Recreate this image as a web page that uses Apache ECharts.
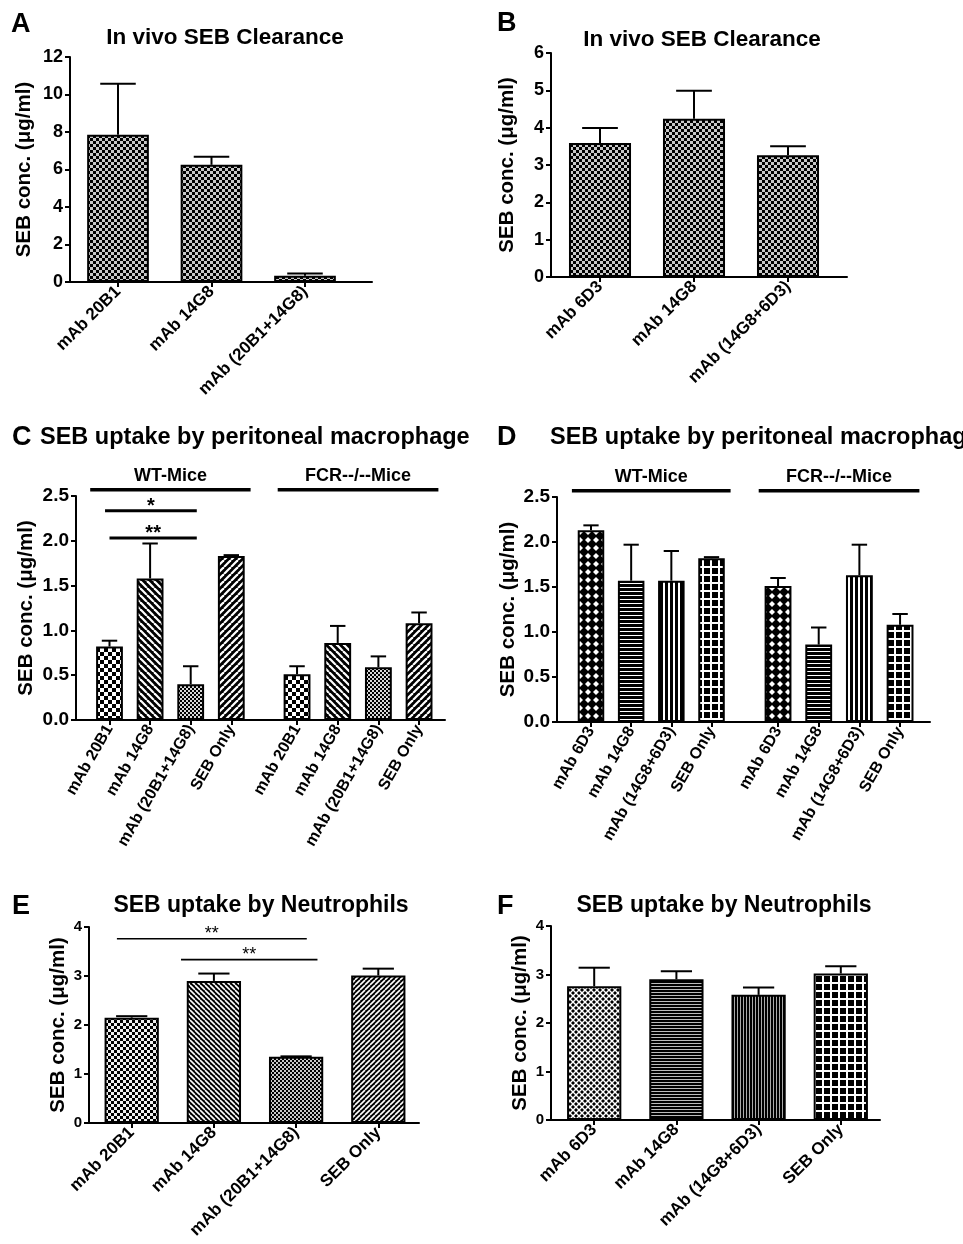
<!DOCTYPE html>
<html><head><meta charset="utf-8">
<script src="https://cdn.jsdelivr.net/npm/echarts@6/dist/echarts.min.js"></script>
<style>html,body{margin:0;padding:0;background:#fff}#c{width:963px;height:1244px}</style>
</head><body><div id="c"></div>
<script>
// ---------------- DATA ----------------
const catA = ['mAb 20B1', 'mAb 14G8', 'mAb (20B1+14G8)'];
const valA = [7.85, 6.25, 0.33];
const errA = [2.72, 0.43, 0.12];

const catB = ['mAb 6D3', 'mAb 14G8', 'mAb (14G8+6D3)'];
const valB = [3.59, 4.24, 3.26];
const errB = [0.40, 0.75, 0.24];

const catC = ['mAb 20B1', 'mAb 14G8', 'mAb (20B1+14G8)', 'SEB Only'];
const valC_WT = [0.82, 1.58, 0.40, 1.83];
const errC_WT = [0.065, 0.39, 0.20, 0.01];
const valC_FCR = [0.51, 0.86, 0.59, 1.08];
const errC_FCR = [0.09, 0.19, 0.12, 0.12];

const catD = ['mAb 6D3', 'mAb 14G8', 'mAb (14G8+6D3)', 'SEB Only'];
const valD_WT = [2.13, 1.57, 1.57, 1.82];
const errD_WT = [0.055, 0.40, 0.33, 0.012];
const valD_FCR = [1.51, 0.86, 1.63, 1.08];
const errD_FCR = [0.09, 0.19, 0.34, 0.12];

const catE = ['mAb 20B1', 'mAb 14G8', 'mAb (20B1+14G8)', 'SEB Only'];
const valE = [2.15, 2.90, 1.35, 3.01];
const errE = [0.03, 0.15, 0.01, 0.14];

const catF = ['mAb 6D3', 'mAb 14G8', 'mAb (14G8+6D3)', 'SEB Only'];
const valF = [2.76, 2.90, 2.58, 3.02];
const errF = [0.38, 0.165, 0.15, 0.15];

const groupNames = ['WT-Mice', 'FCR--/--Mice'];
const groupLevel = 2.57;
// significance brackets: [from category, to category, level, label]
const sigC = [[-0.11, 2.15, 2.335, '*'], [0.0, 2.15, 2.03, '**']];
const sigE = [[-0.18, 2.13, 3.76, '**'], [0.6, 2.26, 3.335, '**']];

const yTitle = 'SEB conc. (\u03bcg/ml)';
const titleAB = 'In vivo SEB Clearance';
const titleCD = 'SEB uptake by peritoneal macrophage';
const titleEF = 'SEB uptake by Neutrophils';

// ---------------- PATTERNS ----------------
function mk(w, h, draw) {
  const c = document.createElement('canvas'); c.width = w; c.height = h;
  const g = c.getContext('2d'); draw(g, w, h);
  return { image: c, repeat: 'repeat' };
}
const checker = (s, a, b) => mk(2 * s, 2 * s, g => {
  g.fillStyle = b; g.fillRect(0, 0, 2 * s, 2 * s);
  g.fillStyle = a; g.fillRect(0, 0, s, s); g.fillRect(s, s, s, s);
});
const diag = (p, lw, dir) => mk(p, p, g => {
  g.fillStyle = '#000'; g.fillRect(0, 0, p, p);
  g.strokeStyle = '#fff'; g.lineWidth = lw;
  for (const o of [-p, 0, p]) {
    g.beginPath();
    if (dir > 0) { g.moveTo(o, 0); g.lineTo(o + p, p); } else { g.moveTo(o, p); g.lineTo(o + p, 0); }
    g.stroke();
  }
});
const diamonds = (p, r, bg, fg) => mk(p, p, g => {
  g.fillStyle = bg; g.fillRect(0, 0, p, p); g.fillStyle = fg;
  const pts = [[p / 2, p / 2], [0, 0], [p, 0], [0, p], [p, p]];
  const d = (cx, cy, rr) => { g.beginPath(); g.moveTo(cx, cy - rr); g.lineTo(cx + rr, cy); g.lineTo(cx, cy + rr); g.lineTo(cx - rr, cy); g.closePath(); g.fill(); };
  if (bg === '#000') d(p / 2, p / 2, r); else pts.forEach(q => d(q[0], q[1], r));
});
const hstripe = (p, w, col) => mk(1, p, g => { g.fillStyle = '#000'; g.fillRect(0, 0, 1, p); g.fillStyle = col; g.fillRect(0, p - w, 1, w); });
const vstripe = (p, w, col) => mk(p, 1, g => { g.fillStyle = '#000'; g.fillRect(0, 0, p, 1); g.fillStyle = col; g.fillRect(p - w, 0, w, 1); });
const gridPat = (p, w) => mk(p, p, g => { g.fillStyle = '#000'; g.fillRect(0, 0, p, p); g.fillStyle = '#fff'; g.fillRect(p - w, 0, w, p); g.fillRect(0, p - w, p, w); });

const patAB = [checker(3, '#000', '#c8c8c8'), checker(3, '#000', '#c8c8c8'), checker(3, '#000', '#c8c8c8')];
const patC = [checker(4, '#000', '#fff'), diag(7, 2.2, 1), checker(2, '#000', '#d8d8d8'), diag(7, 2.2, -1)];
const patD = [diamonds(8, 3, '#000', '#fff'), hstripe(4, 1, '#fff'), vstripe(5, 2, '#fff'), gridPat(8, 2)];
const patE = [checker(3, '#000', '#f0f0f0'), diag(5, 1.6, 1), checker(2, '#000', '#c8c8c8'), diag(5, 1.6, -1)];
const patF = [diamonds(6, 2, '#fff', '#000'), hstripe(3, 1, '#bbb'), vstripe(3, 1, '#aaa'), gridPat(8, 2)];

// ---------------- BUILD ----------------
const FONT = '"Liberation Sans", Arial, Helvetica, sans-serif';
const grid = [], xAxis = [], yAxis = [], series = [], graphic = [];

function frame(box, yMin, yMax, yInt, yFmt, tickFont, nameGap) {
  grid.push({ left: box[0], top: box[1], width: box[2], height: box[3] });
  const gi = grid.length - 1;
  xAxis.push({ gridIndex: gi, type: 'value', min: 0, max: 1,
    axisLine: { show: true, onZero: false, lineStyle: { color: '#000', width: 2 } },
    axisTick: { show: false }, axisLabel: { show: false }, splitLine: { show: false } });
  yAxis.push({ gridIndex: gi, type: 'value', min: yMin, max: yMax, interval: yInt,
    axisLine: { show: true, lineStyle: { color: '#000', width: 2 } },
    axisTick: { show: true, length: 5, lineStyle: { color: '#000', width: 2 } },
    axisLabel: { color: '#000', fontFamily: FONT, fontWeight: 'bold', fontSize: tickFont, formatter: yFmt, margin: 7 },
    splitLine: { show: false },
    name: yTitle, nameLocation: 'middle', nameGap: nameGap,
    nameTextStyle: { color: '#000', fontFamily: FONT, fontWeight: 'bold', fontSize: 20.5 } });
}

function bars(box, yMin, yMax, cats, vals, errs, pats, rot, lblFont, margin) {
  grid.push({ left: box[0], top: box[1], width: box[2], height: box[3] });
  const gi = grid.length - 1;
  xAxis.push({ gridIndex: gi, type: 'category', data: cats,
    axisLine: { show: false },
    axisTick: { show: true, alignWithLabel: true, length: 5, lineStyle: { color: '#000', width: 2 } },
    axisLabel: { interval: 0, rotate: rot, color: '#000', fontFamily: FONT, fontWeight: 'bold', fontSize: lblFont, margin: margin } });
  yAxis.push({ gridIndex: gi, type: 'value', min: yMin, max: yMax, show: false, splitLine: { show: false } });
  const xi = xAxis.length - 1, yi = yAxis.length - 1;
  series.push({ type: 'bar', xAxisIndex: xi, yAxisIndex: yi, barWidth: '66%', silent: true,
    itemStyle: { borderColor: '#000', borderWidth: 2 },
    data: vals.map((v, i) => ({ value: v, itemStyle: { color: pats[i] } })) });
  series.push({ type: 'custom', xAxisIndex: xi, yAxisIndex: yi, clip: false, z: 5, silent: true,
    data: vals.map((v, i) => [i, v, errs[i]]),
    renderItem: (params, api) => {
      const i = api.value(0), m = api.value(1), e = api.value(2);
      const p0 = api.coord([i, m]), p1 = api.coord([i, m + e]);
      const half = api.size([1, 0])[0] * 0.19;
      return { type: 'group', children: [
        { type: 'line', shape: { x1: p0[0], y1: p0[1], x2: p1[0], y2: p1[1] }, style: { stroke: '#000', lineWidth: 2 } },
        { type: 'line', shape: { x1: p1[0] - half, y1: p1[1], x2: p1[0] + half, y2: p1[1] }, style: { stroke: '#000', lineWidth: 2 } }
      ] };
    } });
  return { xi, yi, n: cats.length };
}

function groupLabel(ax, name) {
  series.push({ type: 'custom', xAxisIndex: ax.xi, yAxisIndex: ax.yi, clip: false, z: 6, silent: true,
    data: [[0, groupLevel]],
    renderItem: (params, api) => {
      const band = api.size([1, 0])[0];
      const a = api.coord([0, groupLevel]), b = api.coord([ax.n - 1, groupLevel]);
      const x1 = a[0] - band / 2 + 1, x2 = b[0] + band / 2 - 1, y = a[1];
      return { type: 'group', children: [
        { type: 'line', shape: { x1: x1, y1: y, x2: x2, y2: y }, style: { stroke: '#000', lineWidth: 3.5 } },
        { type: 'text', x: (x1 + x2) / 2, y: y - 14, style: { text: name, fill: '#000', font: 'bold 18px ' + FONT, textAlign: 'center', textVerticalAlign: 'middle' } }
      ] };
    } });
}

function sig(ax, list, lw, font) {
  series.push({ type: 'custom', xAxisIndex: ax.xi, yAxisIndex: ax.yi, clip: false, z: 6, silent: true,
    data: list.map(s => [0, s[2]]),
    renderItem: (params, api) => {
      const s = list[params.dataIndex];
      const band = api.size([1, 0])[0];
      const o = api.coord([0, s[2]]);
      const xa = o[0] + s[0] * band, xb = o[0] + s[1] * band, y = o[1];
      return { type: 'group', children: [
        { type: 'line', shape: { x1: xa, y1: y, x2: xb, y2: y }, style: { stroke: '#000', lineWidth: lw } },
        { type: 'text', x: (xa + xb) / 2, y: y - 4.5, style: { text: s[3], fill: '#000', font: font, textAlign: 'center', textVerticalAlign: 'middle' } }
      ] };
    } });
}

function txt(x, y, text, font, align) {
  graphic.push({ type: 'text', x: x, y: y, silent: true,
    style: { text: text, fill: '#000', font: font, textAlign: align || 'center', textVerticalAlign: 'middle' } });
}

const intFmt = v => String(v);
const decFmt = v => v.toFixed(1);

// Panel A
frame([70, 57, 302, 225], 0, 12, 2, intFmt, 18, 35);
bars([71.25, 57, 280.5, 225], 0, 12, catA, valA, errA, patAB, 45, 17, 7);
// Panel B
frame([551, 53, 296, 224], 0, 6, 1, intFmt, 18, 33);
bars([553, 53, 282, 224], 0, 6, catB, valB, errB, patAB, 45, 17, 7);
// Panel C
frame([76, 496, 369, 224], 0, 2.5, 0.5, decFmt, 19, 39);
const c1 = bars([89.2, 496, 162.4, 224], 0, 2.5, catC, valC_WT, errC_WT, patC, 60, 16, 6);
const c2 = bars([276.7, 496, 162.7, 224], 0, 2.5, catC, valC_FCR, errC_FCR, patC, 60, 16, 6);
groupLabel(c1, groupNames[0]); groupLabel(c2, groupNames[1]);
sig(c1, sigC, 3, 'bold 20px ' + FONT);
// Panel D
frame([557, 497, 373, 225], 0, 2.5, 0.5, decFmt, 19, 38);
const d1 = bars([570.9, 497, 160.7, 225], 0, 2.5, catD, valD_WT, errD_WT, patD, 60, 16, 6);
const d2 = bars([757.7, 497, 162.7, 225], 0, 2.5, catD, valD_FCR, errD_FCR, patD, 60, 16, 6);
groupLabel(d1, groupNames[0]); groupLabel(d2, groupNames[1]);
// Panel E
frame([89, 927, 330, 196], 0, 4, 1, intFmt, 15, 20);
const e1 = bars([90.6, 927, 328.8, 196], 0, 4, catE, valE, errE, patE, 45, 17, 7);
sig(e1, sigE, 1.6, '18px ' + FONT);
// Panel F
frame([551, 926, 329, 194], 0, 4, 1, intFmt, 15, 20);
bars([553.1, 926, 328.8, 194], 0, 4, catF, valF, errF, patF, 45, 17, 7);

// Titles and panel letters
const LET = 'bold 27px ' + FONT;
txt(11, 25, 'A', LET, 'left');
txt(225, 38, titleAB, 'bold 22.5px ' + FONT);
txt(497, 24, 'B', LET, 'left');
txt(702, 40, titleAB, 'bold 22.5px ' + FONT);
txt(12, 438, 'C', LET, 'left');
txt(40, 438, titleCD, 'bold 23.5px ' + FONT, 'left');
txt(497, 438, 'D', LET, 'left');
txt(550, 438, titleCD, 'bold 23.5px ' + FONT, 'left');
txt(12, 907, 'E', LET, 'left');
txt(261, 906, titleEF, 'bold 23px ' + FONT);
txt(497, 907, 'F', LET, 'left');
txt(724, 906, titleEF, 'bold 23px ' + FONT);

const chart = echarts.init(document.getElementById('c'), null, { renderer: 'canvas', width: 963, height: 1244 });
chart.setOption({
  backgroundColor: '#fff',
  animation: false,
  grid: grid, xAxis: xAxis, yAxis: yAxis, series: series, graphic: graphic
});
</script>
</body></html>
